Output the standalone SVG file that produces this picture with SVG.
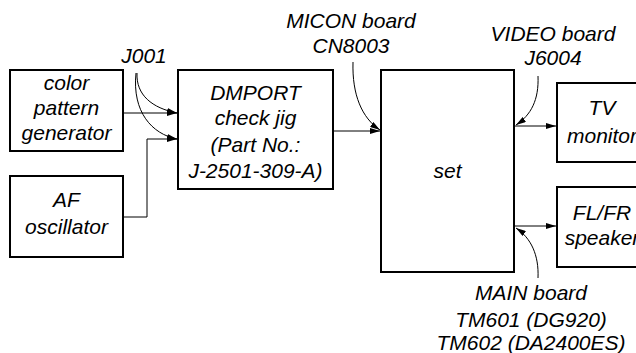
<svg xmlns="http://www.w3.org/2000/svg" width="636" height="353" viewBox="0 0 636 353">
<style>
.box{fill:#fff;stroke:#000;stroke-width:2}
.t{font-family:"Liberation Sans",Arial,sans-serif;font-style:italic;font-size:21px;fill:#000;text-anchor:middle}
.c{fill:none;stroke:#000;stroke-width:1}
</style>
<defs>
<marker id="ah" viewBox="0 0 10 6" refX="10" refY="3" markerWidth="10" markerHeight="6" markerUnits="userSpaceOnUse" orient="auto">
<path d="M0,0 L10,3 L0,6 Z" fill="#000"/>
</marker>
</defs>
<rect width="636" height="353" fill="#fff"/>
<g id="connectors">
<path class="c" d="M123,113 H177" marker-end="url(#ah)"/>
<path class="c" d="M123,217 H147 V139 H177" marker-end="url(#ah)"/>
<path class="c" d="M333,131 H380" marker-end="url(#ah)"/>
<path class="c" d="M514,126 H556" marker-end="url(#ah)"/>
<path class="c" d="M514,226 H556" marker-end="url(#ah)"/>
<path class="c" d="M137,73 C136,95 152,108 177,113" marker-end="url(#ah)"/>
<path class="c" d="M136,73 C132,112 152,134 177,139" marker-end="url(#ah)"/>
<path class="c" d="M353,62 C352,95 362,118 380,130" marker-end="url(#ah)"/>
<path class="c" d="M538,76 C539,100 531,115 516,125" marker-end="url(#ah)"/>
<path class="c" d="M538,278 C539,255 531,238 516,228" marker-end="url(#ah)"/>
</g>
<g id="color-pattern-generator">
<rect class="box" x="10" y="70" width="113" height="81"/>
<text class="t" x="66.5" y="90">color</text>
<text class="t" x="66.5" y="115">pattern</text>
<text class="t" x="66.5" y="140">generator</text>
</g>
<g id="af-oscillator">
<rect class="box" x="10" y="176" width="113" height="81"/>
<text class="t" x="66.5" y="207">AF</text>
<text class="t" x="66.5" y="234">oscillator</text>
</g>
<g id="dmport-jig">
<rect class="box" x="178" y="70" width="155" height="119"/>
<text class="t" x="255.5" y="100">DMPORT</text>
<text class="t" x="255.5" y="125">check jig</text>
<text class="t" x="255.5" y="152">(Part No.:</text>
<text class="t" x="255.5" y="178">J-2501-309-A)</text>
</g>
<g id="set">
<rect class="box" x="381" y="70" width="133" height="202"/>
<text class="t" x="447.5" y="178">set</text>
</g>
<g id="tv-monitor">
<rect class="box" x="557" y="83" width="92" height="79"/>
<text class="t" x="602" y="115">TV</text>
<text class="t" x="602" y="143">monitor</text>
</g>
<g id="speaker">
<rect class="box" x="557" y="187" width="92" height="80"/>
<text class="t" x="602" y="220">FL/FR</text>
<text class="t" x="602" y="245">speaker</text>
</g>
<g id="labels">
<text class="t" x="144" y="63">J001</text>
<text class="t" x="351" y="28">MICON board</text>
<text class="t" x="351" y="53">CN8003</text>
<text class="t" x="553" y="41">VIDEO board</text>
<text class="t" x="553" y="65">J6004</text>
<text class="t" x="531" y="300">MAIN board</text>
<text class="t" x="531" y="327">TM601 (DG920)</text>
<text class="t" x="531" y="350">TM602 (DA2400ES)</text>
</g>
</svg>
